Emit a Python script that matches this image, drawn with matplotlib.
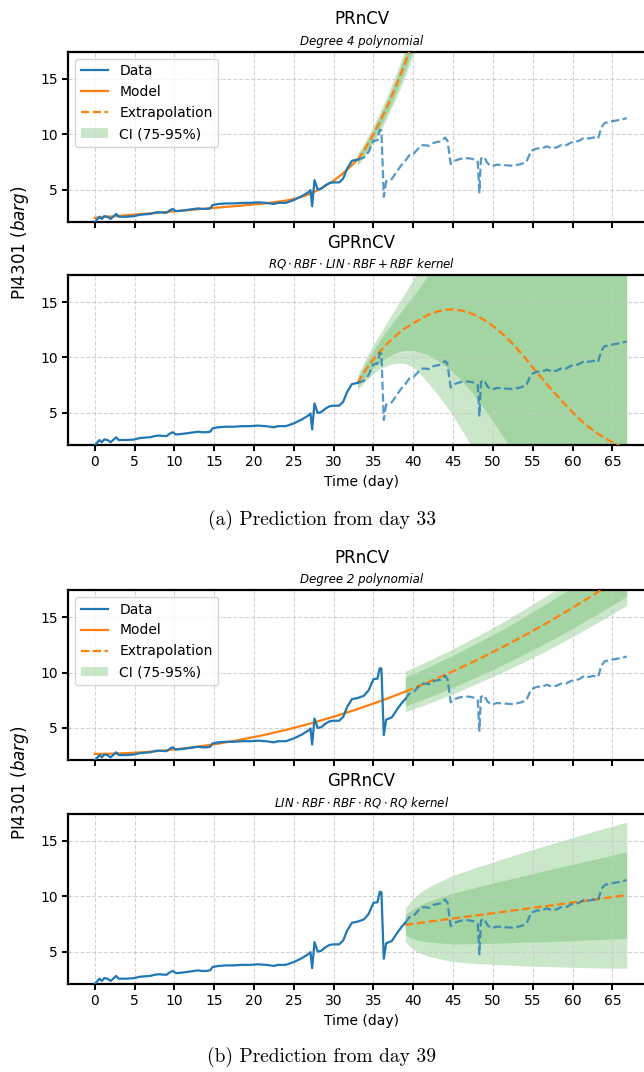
import numpy as np
import matplotlib
matplotlib.use('Agg')
import matplotlib.pyplot as plt

# measured pressure PI4301 (barg) per day
days = [0.0, 0.3, 0.6, 0.9, 1.2, 1.6, 2.0, 2.4, 2.7, 3.0, 4.0, 5.0, 5.5, 6.0, 7.0, 7.5,
        8.0, 9.0, 9.5, 9.8, 10.2, 11.0, 12.0, 13.0, 13.5, 14.0, 14.5, 14.8, 15.5, 16.5,
        17.5, 18.5, 19.5, 20.5, 21.5, 22.5, 23.0, 24.0, 25.0, 26.0, 26.8, 27.1, 27.3,
        27.6, 28.0, 28.4, 29.0, 29.5, 30.0, 30.7, 31.2, 31.7, 32.3, 33.0, 33.8, 34.4,
        35.0, 35.5, 35.8, 36.0, 36.3, 36.6, 37.3, 38.0, 38.5, 39.0, 39.5, 40.0, 40.5,
        41.0, 41.5, 42.0, 42.5, 43.0, 43.5, 44.0, 44.3, 44.7, 45.2, 45.8, 46.5, 47.2,
        47.8, 48.1, 48.3, 48.5, 48.9, 49.3, 49.8, 50.5, 51.5, 52.5, 53.5, 54.2, 54.8,
        55.5, 56.2, 56.8, 57.3, 58.0, 58.5, 59.2, 59.8, 60.3, 60.8, 61.5, 62.0, 62.6,
        63.2, 63.6, 64.0, 64.5, 65.2, 66.0, 66.8]
pressure = [2.05, 2.3, 2.55, 2.35, 2.6, 2.55, 2.35, 2.6, 2.8, 2.55, 2.55, 2.6, 2.7, 2.75,
            2.8, 2.9, 2.95, 2.9, 3.15, 3.25, 3.05, 3.1, 3.2, 3.3, 3.25, 3.25, 3.3, 3.6,
            3.7, 3.75, 3.75, 3.8, 3.8, 3.85, 3.8, 3.7, 3.8, 3.8, 4.05, 4.4, 4.75, 4.95,
            3.5, 5.85, 5.0, 5.05, 5.4, 5.6, 5.65, 5.65, 6.0, 6.9, 7.6, 7.7, 7.9, 8.4, 9.4,
            9.45, 10.4, 10.35, 4.35, 5.75, 5.95, 6.7, 7.2, 7.6, 8.1, 8.2, 8.6, 9.0, 9.0,
            8.95, 9.2, 9.3, 9.35, 9.7, 9.4, 7.3, 7.6, 7.75, 7.85, 7.8, 7.7, 7.5, 4.75,
            7.8, 7.95, 7.4, 7.1, 7.25, 7.2, 7.15, 7.3, 7.5, 8.5, 8.7, 8.75, 8.9, 8.75,
            8.8, 9.0, 9.0, 9.25, 9.3, 9.4, 9.7, 9.6, 9.7, 9.6, 10.6, 11.0, 11.1, 11.2,
            11.3, 11.45]

# (a) PRnCV, degree 4 polynomial, prediction from day 33
pr33_fit_days = [0, 3, 6, 9, 12, 15, 18, 21, 24, 25, 26, 27, 28, 29, 30, 31, 32, 33]
pr33_fit = [2.45, 2.62, 2.8, 2.98, 3.16, 3.35, 3.53, 3.72, 4.0, 4.15, 4.35, 4.6, 4.95,
            5.35, 5.8, 6.35, 7.0, 7.7]
pr33_ext_days = [33, 33.5, 34, 34.5, 35, 35.5, 36, 36.5, 37, 37.5, 38, 38.5, 39, 39.5, 40, 40.5]
pr33_ext = [7.7, 8.2, 8.75, 9.35, 10.0, 10.7, 11.4, 12.15, 12.95, 13.8, 14.65, 15.55,
            16.5, 17.5, 18.5, 19.55]
pr33_h95 = [0.55, 0.6, 0.66, 0.72, 0.78, 0.84, 0.9, 0.96, 1.02, 1.08, 1.14, 1.2, 1.26,
            1.32, 1.38, 1.44]
pr33_h75 = [0.33, 0.36, 0.39, 0.43, 0.46, 0.5, 0.53, 0.57, 0.6, 0.64, 0.67, 0.71, 0.74,
            0.78, 0.81, 0.85]

# (a) GPRnCV from day 33
gp33_days = [33, 34, 35, 36, 37, 38, 39, 40, 41, 42, 43, 44, 45, 46, 47, 48, 49, 50, 51,
             52, 53, 54, 55, 56, 57, 58, 59, 60, 61, 62, 63, 64, 65, 66, 66.8]
gp33_ext = [7.7, 8.85, 9.85, 10.7, 11.45, 12.1, 12.65, 13.1, 13.5, 13.9, 14.15, 14.3,
            14.35, 14.25, 14.05, 13.75, 13.35, 12.85, 12.25, 11.6, 10.85, 10.0, 9.1,
            8.25, 7.4, 6.6, 5.8, 5.05, 4.35, 3.75, 3.2, 2.75, 2.35, 2.0, 1.75]
gp33_h95 = [0.65, 1.0, 1.3, 1.65, 2.1, 2.6, 3.2, 4.0, 5.1, 6.3, 7.45, 8.55, 9.65, 10.7,
            11.7, 12.65, 13.6, 14.5, 15.3, 16.1, 16.9, 17.6, 18.3, 19.0, 19.6, 20.2, 20.8,
            21.4, 22.0, 22.5, 23.0, 23.5, 24.0, 24.5, 25.0]
gp33_h75 = [0.38, 0.6, 0.8, 1.05, 1.3, 1.6, 2.0, 2.45, 3.05, 3.7, 4.4, 5.05, 5.7, 6.3,
            6.9, 7.5, 8.05, 8.6, 9.1, 9.55, 10.0, 10.6, 11.6, 12.2, 12.8, 13.4, 14.0,
            14.6, 15.2, 15.8, 16.4, 17.0, 17.6, 18.2, 18.7]

# (b) PRnCV, degree 2 polynomial, prediction from day 39
pr39_fit_days = [0, 3, 6, 9, 12, 15, 18, 21, 24, 27, 30, 33, 36, 39]
pr39_fit = [2.65, 2.69, 2.8, 2.98, 3.22, 3.52, 3.89, 4.32, 4.82, 5.38, 6.01, 6.7, 7.46, 8.28]
pr39_ext_days = [39, 42, 45, 48, 51, 54, 57, 60, 63, 66, 66.8]
pr39_ext = [8.28, 9.17, 10.12, 11.14, 12.22, 13.36, 14.57, 15.85, 17.19, 18.59, 18.97]
pr39_h95 = [1.83, 1.93, 2.03, 2.13, 2.25, 2.37, 2.49, 2.61, 2.73, 2.86, 2.9]
pr39_h75 = [1.3, 1.37, 1.44, 1.52, 1.6, 1.68, 1.77, 1.86, 1.95, 2.05, 2.08]

# (b) GPRnCV from day 39
gp39_days = [39, 39.5, 40, 41, 42, 43, 45, 48, 51, 54, 57, 60, 63, 66.8]
gp39_ext = [7.4, 7.45, 7.5, 7.6, 7.7, 7.8, 7.98, 8.27, 8.56, 8.85, 9.14, 9.43, 9.72, 10.1]
gp39_h95 = [1.5, 1.95, 2.3, 2.8, 3.15, 3.4, 3.9, 4.35, 4.75, 5.15, 5.5, 5.85, 6.2, 6.6]
gp39_h75 = [0.88, 1.15, 1.35, 1.65, 1.85, 2.0, 2.3, 2.55, 2.8, 3.0, 3.25, 3.45, 3.65, 3.9]

BLUE, ORANGE, GREEN = '#1f77b4', '#ff7f0e', '#2ca02c'


def draw(ax, start, ext_days, ext, h95, h75, title, sub, fit_days=None, fit=None):
    d = np.array(days)
    p = np.array(pressure)
    e = np.array(ext)
    ax.fill_between(ext_days, e - np.array(h95), e + np.array(h95), color=GREEN,
                    alpha=0.25, lw=0, label='CI (75-95%)')
    ax.fill_between(ext_days, e - np.array(h75), e + np.array(h75), color=GREEN,
                    alpha=0.25, lw=0)
    ax.plot(d[d <= start], p[d <= start], color=BLUE, lw=1.6, label='Data', zorder=4)
    ax.plot(d[d >= start], p[d >= start], color=BLUE, lw=1.6, ls='--', alpha=0.75, zorder=4)
    if fit is not None:
        ax.plot(fit_days, fit, color=ORANGE, lw=1.6, label='Model', zorder=3)
    ax.plot(ext_days, ext, color=ORANGE, lw=1.6, ls='--', label='Extrapolation', zorder=3)

    ax.set_xlim(-3.35, 70.35)
    ax.set_ylim(2.1, 17.45)
    ax.set_xticks(range(0, 70, 5))
    ax.set_yticks([5, 10, 15])
    ax.grid(True, ls='--', lw=0.8, color='#c8c8c8', alpha=0.8)
    ax.tick_params(labelsize=10, width=1.4, length=4)
    for s in ax.spines.values():
        s.set_linewidth(1.6)
    ax.text(0.5, 1.16, title, transform=ax.transAxes, ha='center', va='baseline', fontsize=12)
    ax.text(0.5, 1.042, sub, transform=ax.transAxes, ha='center', va='baseline',
            fontsize=8.5, style='italic')


fig = plt.figure(figsize=(6.44, 10.72), dpi=100)
L, W, H = 68 / 644, 587 / 644, 170 / 1072
ax1 = fig.add_axes([L, 0.7932, W, H])
ax2 = fig.add_axes([L, 0.5849, W, H])
ax3 = fig.add_axes([L, 0.2910, W, H])
ax4 = fig.add_axes([L, 0.0824, W, H])

draw(ax1, 33, pr33_ext_days, pr33_ext, pr33_h95, pr33_h75, 'PRnCV',
     'Degree 4 polynomial', pr33_fit_days, pr33_fit)
draw(ax2, 33, gp33_days, gp33_ext, gp33_h95, gp33_h75, 'GPRnCV',
     r'$RQ \cdot RBF \cdot LIN \cdot RBF + RBF\ kernel$')
draw(ax3, 39, pr39_ext_days, pr39_ext, pr39_h95, pr39_h75, 'PRnCV',
     'Degree 2 polynomial', pr39_fit_days, pr39_fit)
draw(ax4, 39, gp39_days, gp39_ext, gp39_h95, gp39_h75, 'GPRnCV',
     r'$LIN \cdot RBF \cdot RBF \cdot RQ \cdot RQ\ kernel$')

order = ['Data', 'Model', 'Extrapolation', 'CI (75-95%)']
for ax in (ax1, ax3):
    ax.tick_params(labelbottom=False)
    h, l = ax.get_legend_handles_labels()
    hd = dict(zip(l, h))
    ax.legend([hd[k] for k in order], order, loc='upper left', fontsize=10)
for ax in (ax2, ax4):
    ax.set_xlabel('Time (day)', fontsize=10)

fig.text(0.031, 0.773, r'PI4301 ($barg$)', rotation=90, ha='center', va='center', fontsize=12)
fig.text(0.031, 0.270, r'PI4301 ($barg$)', rotation=90, ha='center', va='center', fontsize=12)
fig.text(0.5, 0.515, '(a) Prediction from day 33', ha='center', va='center',
         fontsize=14, family='cmr10')
fig.text(0.5, 0.014, '(b) Prediction from day 39', ha='center', va='center',
         fontsize=14, family='cmr10')

fig.savefig('out.png', dpi=100)
